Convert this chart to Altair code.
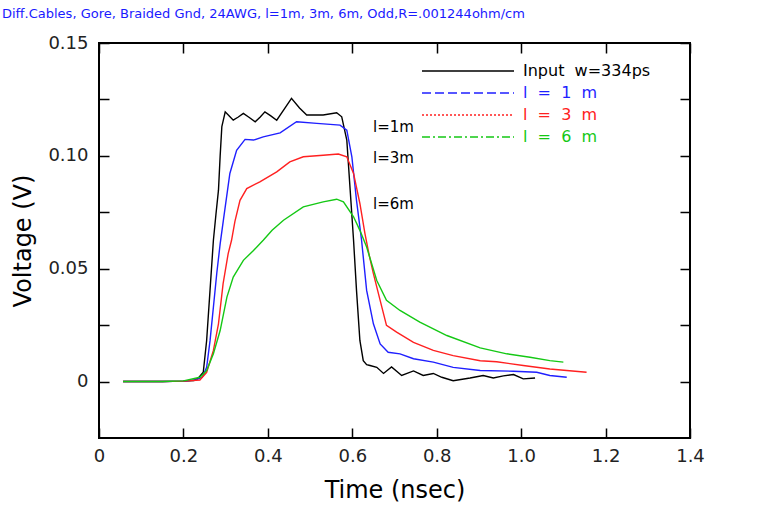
import altair as alt
import pandas as pd

# ---- series: time (ns) and voltage (V) ----
NB = "\u00a0\u00a0"  # wide gap kept by SVG text
series_names = ["Input" + NB + "w=334ps", "l" + NB + "=" + NB + "1" + NB + "m",
                "l" + NB + "=" + NB + "3" + NB + "m", "l" + NB + "=" + NB + "6" + NB + "m"]
series_colors = ["#000000", "#1f1fff", "#ff2020", "#14c814"]
series_dashes = [[1, 0], [9, 4], [2, 2], [8, 3, 2, 3]]

t_input = [0.057, 0.10, 0.15, 0.20, 0.225, 0.235, 0.247, 0.255, 0.263, 0.271, 0.277,
           0.283, 0.287, 0.291, 0.299, 0.308, 0.318, 0.330, 0.342, 0.356, 0.370, 0.382,
           0.393, 0.407, 0.421, 0.440, 0.456, 0.475, 0.492, 0.531, 0.563, 0.575, 0.587,
           0.595, 0.603, 0.610, 0.618, 0.626, 0.634, 0.642, 0.658, 0.674, 0.693, 0.717,
           0.745, 0.768, 0.792, 0.812, 0.839, 0.879, 0.910, 0.934, 0.958, 0.982, 1.005,
           1.033]
v_input = [0.0, 0.0, 0.0, 0.0002, 0.0005, 0.0015, 0.0041, 0.0182, 0.0404, 0.0626, 0.074,
           0.0848, 0.100, 0.113, 0.1195, 0.1178, 0.1158, 0.1172, 0.1188, 0.1170, 0.1151, 0.1172,
           0.1195, 0.1177, 0.1158, 0.1210, 0.1255, 0.1212, 0.1181, 0.1181, 0.1191, 0.1173, 0.107,
           0.0848, 0.0626, 0.0404, 0.0182, 0.0093, 0.0075, 0.0071, 0.0063, 0.0036, 0.0065, 0.0027,
           0.0047, 0.0027, 0.0036, 0.0019, 0.0004, 0.0016, 0.0027, 0.0016, 0.0025, 0.0031, 0.0012,
           0.0016]

t_1m = [0.057, 0.10, 0.15, 0.20, 0.230, 0.245, 0.255, 0.263, 0.271, 0.279, 0.287, 0.295,
        0.310, 0.326, 0.346, 0.366, 0.389, 0.429, 0.468, 0.516, 0.571, 0.587, 0.599, 0.610,
        0.622, 0.634, 0.650, 0.666, 0.685, 0.713, 0.745, 0.792, 0.839, 0.903, 0.982, 1.037,
        1.068, 1.108]
v_1m = [0.0, 0.0, 0.0, 0.0002, 0.0008, 0.002, 0.0063, 0.018, 0.033, 0.048, 0.061, 0.072,
        0.0922, 0.1025, 0.1073, 0.1070, 0.1084, 0.1102, 0.1151, 0.1144, 0.1136, 0.1114, 0.0996, 0.0803,
        0.0626, 0.0404, 0.0256, 0.0167, 0.013, 0.0123, 0.0101, 0.0086, 0.0063, 0.0049, 0.0046, 0.0041,
        0.0027, 0.0019]

t_3m = [0.057, 0.10, 0.15, 0.20, 0.239, 0.255, 0.271, 0.283, 0.294, 0.306, 0.314, 0.322,
        0.334, 0.350, 0.381, 0.421, 0.452, 0.484, 0.531, 0.567, 0.587, 0.603, 0.618, 0.630,
        0.640, 0.650, 0.666, 0.681, 0.705, 0.745, 0.792, 0.839, 0.903, 0.942, 1.005, 1.068,
        1.108, 1.155]
v_3m = [0.0, 0.0, 0.0, 0.0002, 0.0007, 0.0041, 0.0138, 0.0256, 0.0434, 0.0567, 0.0626, 0.071,
        0.0803, 0.0855, 0.0885, 0.0929, 0.0973, 0.0996, 0.1003, 0.1008, 0.0996, 0.0922, 0.0789, 0.0655,
        0.0560, 0.0478, 0.036, 0.0249, 0.0219, 0.0174, 0.0138, 0.0115, 0.0092, 0.0088, 0.0071, 0.0056,
        0.0049, 0.0041]

t_6m = [0.057, 0.10, 0.15, 0.20, 0.239, 0.255, 0.271, 0.287, 0.303, 0.318, 0.342, 0.366,
        0.389, 0.410, 0.437, 0.484, 0.531, 0.563, 0.579, 0.603, 0.618, 0.634, 0.658, 0.681,
        0.713, 0.760, 0.824, 0.903, 0.966, 1.021, 1.068, 1.100]
v_6m = [0.0, 0.0, 0.0, 0.0003, 0.0019, 0.0049, 0.0123, 0.0226, 0.0374, 0.0463, 0.0537, 0.0581,
        0.0626, 0.067, 0.0715, 0.0774, 0.0796, 0.0808, 0.0796, 0.073, 0.067, 0.0596, 0.0448, 0.036,
        0.0315, 0.0263, 0.0204, 0.0149, 0.0123, 0.0108, 0.0093, 0.0086]

# ---- curve labels placed beside the plateaus ----
note_text = ["l=1m", "l=3m", "l=6m"]
note_t = [0.649, 0.649, 0.649]
note_v = [0.1127, 0.0990, 0.0786]

x_ticks = [0.0, 0.2, 0.4, 0.6, 0.8, 1.0, 1.2, 1.4]
y_ticks = [0.0, 0.025, 0.05, 0.075, 0.10, 0.125, 0.15]

rows = []
for name, ts, vs in zip(series_names, [t_input, t_1m, t_3m, t_6m], [v_input, v_1m, v_3m, v_6m]):
    for i, (t, v) in enumerate(zip(ts, vs)):
        rows.append({"series": name, "t": t, "v": v, "i": i})
curves = pd.DataFrame(rows)
notes = pd.DataFrame({"label": note_text, "t": note_t, "v": note_v})

FONT = "DejaVu Sans"
x_scale = alt.Scale(domain=[0, 1.4], nice=False, zero=False)
y_scale = alt.Scale(domain=[-0.025, 0.15], nice=False, zero=False)
inward = {"expr": "-10"}

legend = alt.Legend(
    title=None, orient="none", legendX=322, legendY=17, padding=0,
    symbolType="stroke", symbolSize=8464, symbolStrokeWidth=1.5, symbolOpacity=1,
    clipHeight=22, rowPadding=0,
    labelFont=FONT, labelFontSize=16, labelOffset=8,
    labelColor={"expr": "scale('color', datum.value)"},
)
color = alt.Color("series:N", scale=alt.Scale(domain=series_names, range=series_colors),
                  sort=series_names, legend=legend)

axis_text = dict(labelFont=FONT, labelFontSize=18, labelColor="#222222",
                 titleFont=FONT, titleFontSize=24, titleFontWeight="normal", titleColor="black")

x_bottom = alt.Axis(values=x_ticks, title="Time (nsec)", grid=False, domain=False,
                    tickSize=inward, tickColor="black", tickWidth=1.5, labelPadding=19,
                    labelFlush=False, labelOverlap=False, titlePadding=13,
                    labelExpr="datum.value == 0 ? '0' : format(datum.value, '.1f')", **axis_text)
y_left = alt.Axis(values=y_ticks, title="Voltage (V)", grid=False, domain=False,
                  tickSize=inward, tickColor="black", tickWidth=1.5, labelPadding=21,
                  labelFlush=False, labelOverlap=False, titlePadding=12,
                  labelExpr="round(datum.value * 1000) % 50 == 0 ? (datum.value == 0 ? '0' : format(datum.value, '.2f')) : ''",
                  **axis_text)
x_top = alt.Axis(values=x_ticks, orient="top", title=None, labels=False, grid=False,
                 domain=False, tickSize=inward, tickColor="black", tickWidth=1.5)
y_right = alt.Axis(values=y_ticks, orient="right", title=None, labels=False, grid=False,
                   domain=False, tickSize=inward, tickColor="black", tickWidth=1.5)

lines = alt.Chart(curves).mark_line(strokeWidth=1.4, interpolate="linear").encode(
    x=alt.X("t:Q", scale=x_scale, axis=x_bottom),
    y=alt.Y("v:Q", scale=y_scale, axis=y_left),
    color=color,
    order="i:Q",
    detail="series:N",
)

key = alt.Chart(curves).mark_line(opacity=0).encode(
    x=alt.X("t:Q", scale=x_scale, axis=x_top),
    y=alt.Y("v:Q", scale=y_scale, axis=y_right),
    color=color,
    strokeDash=alt.StrokeDash("series:N", scale=alt.Scale(domain=series_names, range=series_dashes),
                              sort=series_names, legend=legend),
    order="i:Q",
)

labels = alt.Chart(notes).mark_text(align="left", baseline="middle", font=FONT,
                                    fontSize=15, color="black").encode(
    x=alt.X("t:Q", scale=x_scale, axis=None),
    y=alt.Y("v:Q", scale=y_scale, axis=None),
    text="label:N",
)

chart = alt.layer(lines, key, labels).resolve_axis(x="independent", y="independent").properties(
    width=591, height=395,
    background="white",
    autosize=alt.AutoSizeParams(type="none"),
    padding={"left": 99, "top": 43, "right": 69, "bottom": 68},
    title=alt.TitleParams(
        text="Diff.Cables, Gore, Braided Gnd, 24AWG, l=1m, 3m, 6m, Odd,R=.001244ohm/cm",
        anchor="start", frame="group", dx=-97, offset=13,
        font=FONT, fontSize=13, fontWeight="normal", color="#1a1aff",
    ),
).configure_view(stroke="black", strokeWidth=2)

chart.save("out.html", embed_options={"renderer": "svg", "actions": False})
